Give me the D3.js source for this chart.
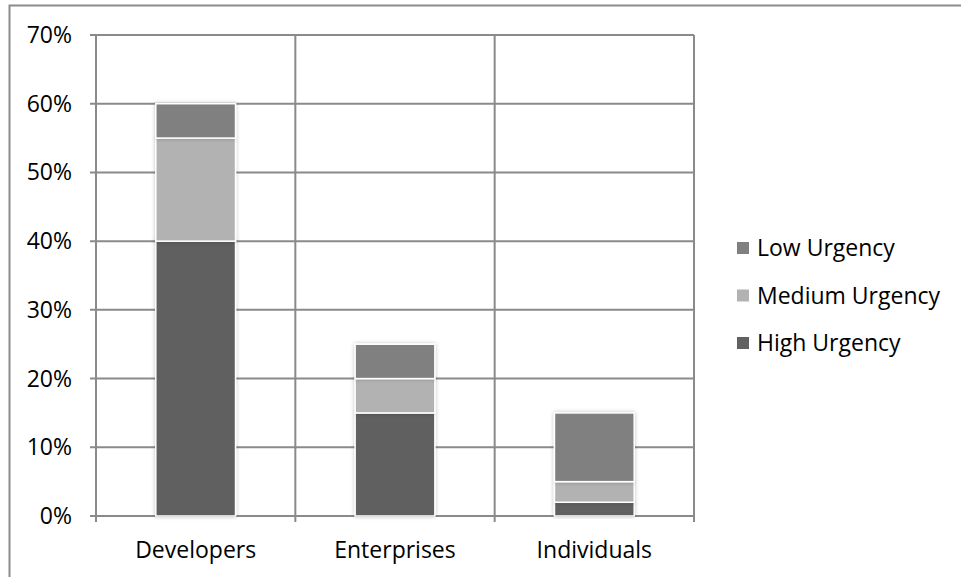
<!DOCTYPE html>
<html><head><meta charset="utf-8">
<script src="https://cdn.jsdelivr.net/npm/d3@7"></script>
<style>
html,body{margin:0;padding:0;background:#fff;}
svg{display:block;font-family:"Open Sans",sans-serif;}
</style></head>
<body>
<svg id="c" width="961" height="577"></svg>
<script>
const categories = ["Developers", "Enterprises", "Individuals"];
const seriesNames = ["High Urgency", "Medium Urgency", "Low Urgency"];
const highUrgency = [0.40, 0.15, 0.02];
const mediumUrgency = [0.15, 0.05, 0.03];
const lowUrgency = [0.05, 0.05, 0.10];
const yTicks = [0, 0.1, 0.2, 0.3, 0.4, 0.5, 0.6, 0.7];
const colors = {"High Urgency": "#616161", "Medium Urgency": "#b2b2b2", "Low Urgency": "#808080"};

const svg = d3.select("#c");
svg.append("rect").attr("x", 9.5).attr("y", 5.5).attr("width", 1000).attr("height", 1000)
  .attr("fill", "none").attr("stroke", "#8c8c8c").attr("stroke-width", 2);

const pL = 96, pR = 694, pT = 35, pB = 516;
const x = d3.scaleBand().domain(categories).range([pL, pR]).paddingInner(0).paddingOuter(0);
const y = d3.scaleLinear().domain([0, 0.7]).range([pB, pT]);

const grid = "#8a8a8a";
svg.append("g").selectAll("line").data(yTicks).join("line")
  .attr("x1", pL - 6).attr("x2", pR).attr("y1", d => y(d)).attr("y2", d => y(d))
  .attr("stroke", grid).attr("stroke-width", 2);
const bounds = categories.map(c => x(c)).concat([pR]);
svg.append("g").selectAll("line").data(bounds).join("line")
  .attr("x1", d => d).attr("x2", d => d).attr("y1", pT).attr("y2", pB + 6)
  .attr("stroke", grid).attr("stroke-width", 2);

const fs = 23;
svg.append("g").selectAll("text").data(yTicks).join("text")
  .attr("x", 72).attr("y", d => y(d) + 8).attr("text-anchor", "end")
  .attr("font-size", fs).attr("fill", "#000").text(d => d3.format(".0%")(d));
svg.append("g").selectAll("text").data(categories).join("text")
  .attr("x", d => x(d) + x.bandwidth() / 2).attr("y", 558).attr("text-anchor", "middle")
  .attr("font-size", fs).attr("fill", "#000").text(d => d);

const table = categories.map((c, i) => ({cat: c, "High Urgency": highUrgency[i], "Medium Urgency": mediumUrgency[i], "Low Urgency": lowUrgency[i]}));
const stack = d3.stack().keys(seriesNames)(table);
const bw = x.bandwidth() * 0.4;

const defs = svg.append("defs");
const f = defs.append("filter").attr("id", "sh").attr("x", "-20%").attr("y", "-20%").attr("width", "140%").attr("height", "140%");
f.append("feGaussianBlur").attr("in", "SourceAlpha").attr("stdDeviation", 2).attr("result", "b");
f.append("feComponentTransfer").attr("in", "b").attr("result", "o2").append("feFuncA").attr("type", "linear").attr("slope", 0.25);
const m = f.append("feMerge"); m.append("feMergeNode").attr("in", "o2"); m.append("feMergeNode").attr("in", "SourceGraphic");

svg.append("g").selectAll("g").data(stack).join("g")
  .attr("fill", d => colors[d.key])
  .selectAll("rect").data(d => d).join("rect")
  .attr("x", d => x(d.data.cat) + (x.bandwidth() - bw) / 2)
  .attr("width", bw)
  .attr("y", d => y(d[1]))
  .attr("height", d => y(d[0]) - y(d[1]))
  .attr("stroke", "#fff").attr("stroke-width", 1.5)
  .attr("filter", "url(#sh)");

const legendOrder = ["Low Urgency", "Medium Urgency", "High Urgency"];
const lg = svg.append("g").selectAll("g").data(legendOrder).join("g")
  .attr("transform", (d, i) => `translate(737,${248 + i * 47.5})`);
lg.append("rect").attr("x", 0).attr("y", -6).attr("width", 12).attr("height", 12).attr("fill", d => colors[d]);
lg.append("text").attr("x", 20).attr("y", 8).attr("font-size", fs).attr("fill", "#000").text(d => d);
</script>
</body></html>
